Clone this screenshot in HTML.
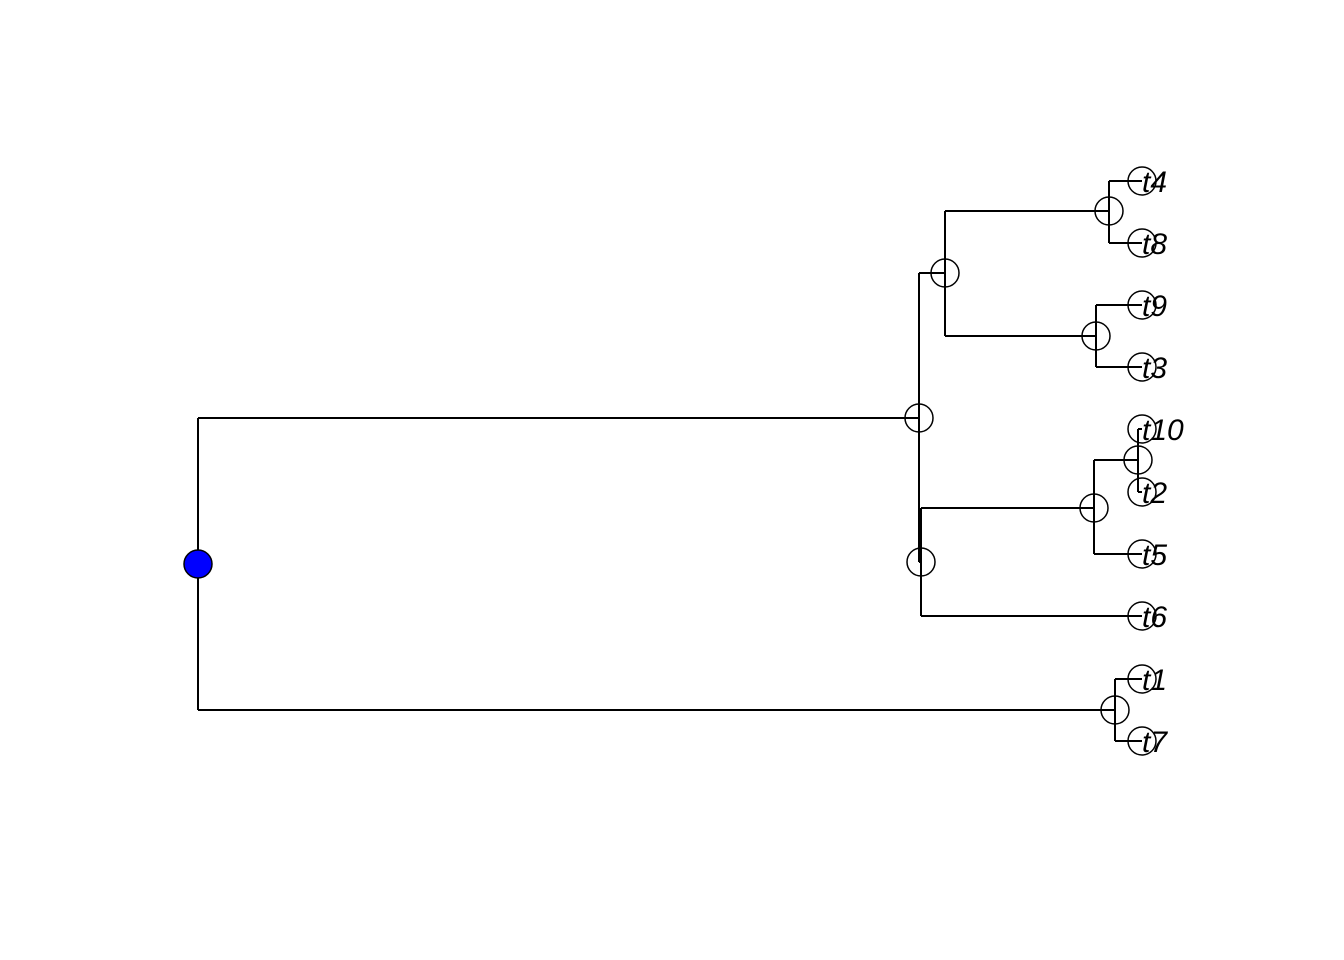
<!DOCTYPE html>
<html><head><style>body{margin:0;background:#fff}svg{display:block}</style></head><body>
<svg width="1344" height="960" xmlns="http://www.w3.org/2000/svg">
<g stroke="#000" stroke-width="2" fill="none">
<path d="M198 418V710M198 418H919M198 710H1115"/>
<path d="M919 273V562M919 273H945M919 562H921"/>
<path d="M945 211V336M945 211H1109M945 336H1096"/>
<path d="M1109 181V243M1109 181H1142M1109 243H1142"/>
<path d="M1096 305V367M1096 305H1142M1096 367H1142"/>
<path d="M921 508V616M921 508H1094M921 616H1142"/>
<path d="M1094 460V554M1094 460H1138M1094 554H1142"/>
<path d="M1138 429V492M1138 429H1142M1138 492H1142"/>
<path d="M1115 679V741M1115 679H1142M1115 741H1142"/>
</g>
<g stroke="#000" stroke-width="1.5" fill="none">
<circle cx="919" cy="418" r="14"/><circle cx="945" cy="273" r="14"/><circle cx="1109" cy="211" r="14"/>
<circle cx="1096" cy="336" r="14"/><circle cx="921" cy="562" r="14"/><circle cx="1094" cy="508" r="14"/>
<circle cx="1138" cy="460" r="14"/><circle cx="1115" cy="710" r="14"/>
<circle cx="1142" cy="181" r="14"/><circle cx="1142" cy="243" r="14"/><circle cx="1142" cy="305" r="14"/>
<circle cx="1142" cy="367" r="14"/><circle cx="1142" cy="429" r="14"/><circle cx="1142" cy="492" r="14"/>
<circle cx="1142" cy="554" r="14"/><circle cx="1142" cy="616" r="14"/><circle cx="1142" cy="679" r="14"/>
<circle cx="1142" cy="741" r="14"/>
</g>
<circle cx="198" cy="564" r="14" fill="#00f" stroke="#000" stroke-width="1.5"/>
<g font-family="Liberation Sans, sans-serif" font-style="italic" font-size="30" fill="#000">
<text x="1142" y="192">t4</text><text x="1142" y="254">t8</text><text x="1142" y="316">t9</text>
<text x="1142" y="378">t3</text><text x="1142" y="440">t10</text><text x="1142" y="503">t2</text>
<text x="1142" y="565">t5</text><text x="1142" y="627">t6</text><text x="1142" y="690">t1</text>
<text x="1142" y="752">t7</text>
</g>
</svg>
</body></html>
